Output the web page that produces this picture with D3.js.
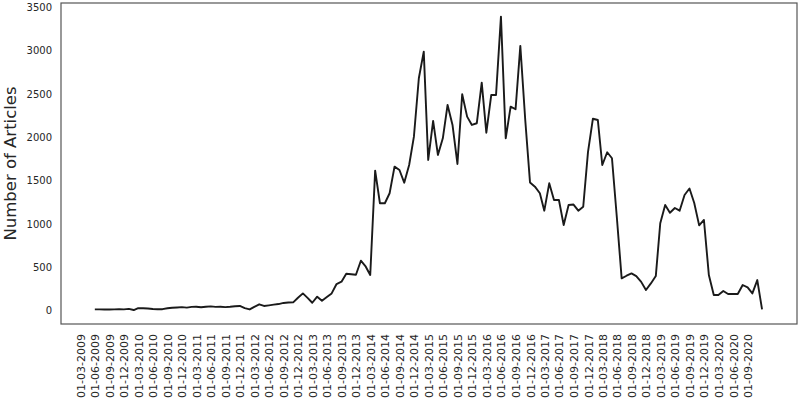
<!DOCTYPE html>
<html>
<head>
<meta charset="utf-8">
<script src="https://cdn.jsdelivr.net/npm/d3@7"></script>
<style>
  html, body { margin: 0; padding: 0; background: #ffffff; }
  svg { display: block; }
</style>
</head>
<body>
<svg id="chart" width="800" height="400"></svg>
<script>
// ---- data (monthly article counts, month-end points) ----
const firstMonth = "2009-05";   // first month of the series
const articleCounts = [
  16, 16, 14, 15, 16, 18, 16, 22, 8, 30,
  28, 25, 20, 18, 18, 28, 35, 38, 42, 36,
  44, 46, 40, 46, 50, 44, 46, 42, 46, 52,
  55, 30, 15, 45, 74, 55, 62, 70, 77, 90,
  95, 97, 150, 200, 146, 92, 162, 115, 158, 200,
  308, 335, 427, 421, 415, 577, 508, 412, 1616, 1240,
  1240, 1355, 1662, 1624, 1477, 1681, 2008, 2682, 2989, 1739,
  2189, 1797, 1989, 2374, 2143, 1693, 2497, 2239, 2143, 2163,
  2631, 2054, 2489, 2489, 3393, 1989, 2355, 2324, 3055, 2200,
  1480, 1431, 1355, 1154, 1470, 1278, 1278, 989, 1220, 1225,
  1154, 1200, 1830, 2215, 2200, 1681, 1828, 1759, 1070, 374,
  404, 431, 400, 333, 239, 315, 400, 1009, 1220, 1130,
  1185, 1154, 1335, 1410, 1243, 985, 1047, 412, 181, 181,
  227, 193, 193, 193, 297, 270, 200, 354, 16
];
const xTickLabels = [
  "01-03-2009","01-06-2009","01-09-2009","01-12-2009",
  "01-03-2010","01-06-2010","01-09-2010","01-12-2010",
  "01-03-2011","01-06-2011","01-09-2011","01-12-2011",
  "01-03-2012","01-06-2012","01-09-2012","01-12-2012",
  "01-03-2013","01-06-2013","01-09-2013","01-12-2013",
  "01-03-2014","01-06-2014","01-09-2014","01-12-2014",
  "01-03-2015","01-06-2015","01-09-2015","01-12-2015",
  "01-03-2016","01-06-2016","01-09-2016","01-12-2016",
  "01-03-2017","01-06-2017","01-09-2017","01-12-2017",
  "01-03-2018","01-06-2018","01-09-2018","01-12-2018",
  "01-03-2019","01-06-2019","01-09-2019","01-12-2019",
  "01-03-2020","01-06-2020","01-09-2020"
];
const yTickValues = [0, 500, 1000, 1500, 2000, 2500, 3000, 3500];
const yAxisTitle = "Number of Articles";

// ---- build table ----
const parseMonth = d3.utcParse("%Y-%m");
const parseTick = d3.utcParse("%d-%m-%Y");
const start = parseMonth(firstMonth);
const data = articleCounts.map((v, i) => ({
  // month-end date of each month
  date: d3.utcDay.offset(d3.utcMonth.offset(start, i + 1), -1),
  value: v
}));

// ---- layout ----
const frame = { left: 61, right: 797, top: 3, bottom: 324 };
const svg = d3.select("#chart");

const x = d3.scaleUtc()
  .domain([d3.utcDay.offset(data[0].date, -213), d3.utcDay.offset(data[0].date, 4421)])
  .range([frame.left, frame.right]);
const y = d3.scaleLinear()
  .domain([-153, 3550])
  .range([frame.bottom, frame.top]);

const textColor = "#262626";

// Y axis
const yAxis = svg.append("g")
  .attr("transform", `translate(${frame.left},0)`)
  .call(d3.axisLeft(y).tickValues(yTickValues).tickSize(0).tickPadding(9).tickFormat(d3.format("d")));
yAxis.select(".domain").remove();
yAxis.selectAll("text")
  .attr("font-family", "DejaVu Sans")
  .attr("font-size", 10)
  .attr("fill", textColor);

// X axis
const xAxis = svg.append("g")
  .attr("transform", `translate(0,${frame.bottom})`)
  .call(d3.axisBottom(x)
    .tickValues(xTickLabels.map(parseTick))
    .tickSize(0)
    .tickFormat(d3.utcFormat("%d-%m-%Y")));
xAxis.select(".domain").remove();
xAxis.selectAll("text")
  .attr("font-family", "DejaVu Sans")
  .attr("font-size", 11)
  .attr("fill", textColor)
  .attr("text-anchor", "end")
  .attr("dy", "0.35em")
  .attr("transform", "translate(0,10) rotate(-90)")
  .attr("x", 0)
  .attr("y", 0);

// Y title
svg.append("text")
  .attr("transform", `translate(16,${(frame.top + frame.bottom) / 2}) rotate(-90)`)
  .attr("text-anchor", "middle")
  .attr("font-family", "DejaVu Sans")
  .attr("font-size", 16.5)
  .attr("fill", textColor)
  .text(yAxisTitle);

// line
svg.append("path")
  .datum(data)
  .attr("fill", "none")
  .attr("stroke", "#1a1a1a")
  .attr("stroke-width", 1.9)
  .attr("stroke-linejoin", "round")
  .attr("d", d3.line().x(d => x(d.date)).y(d => y(d.value)));

// frame
svg.append("rect")
  .attr("x", frame.left)
  .attr("y", frame.top)
  .attr("width", frame.right - frame.left)
  .attr("height", frame.bottom - frame.top)
  .attr("fill", "none")
  .attr("stroke", "#555555")
  .attr("stroke-width", 1.2);
</script>
</body>
</html>
